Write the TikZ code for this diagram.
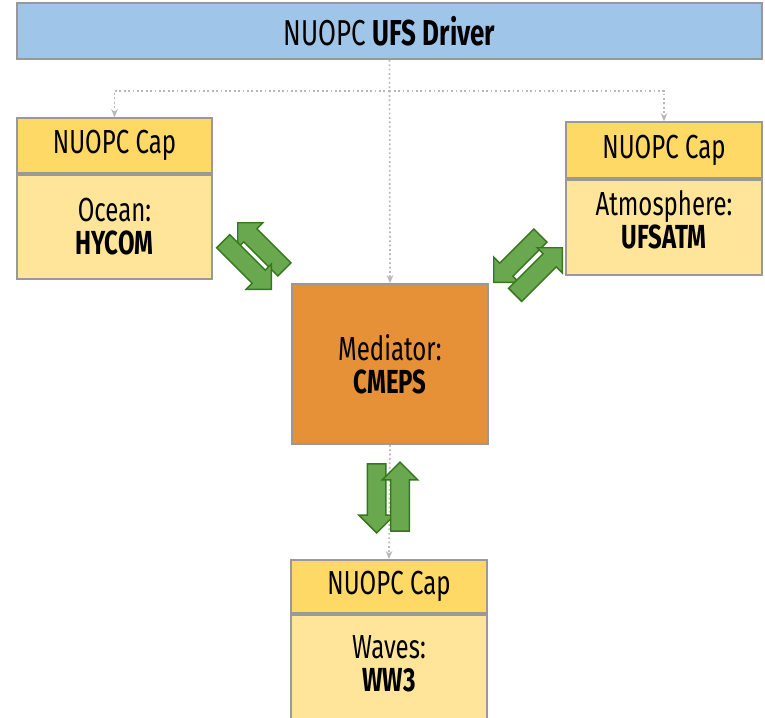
\documentclass[tikz,border=0pt]{standalone}
\usepackage{fontspec}
\setmainfont{Fira Sans}[FakeStretch=0.72]
\usetikzlibrary{positioning,calc,shapes.arrows,arrows.meta}

\definecolor{driverblue}{HTML}{9FC5E8}
\definecolor{capdark}{HTML}{FFD966}
\definecolor{caplight}{HTML}{FFE599}
\definecolor{medorange}{HTML}{E69138}
\definecolor{boxgray}{HTML}{999999}
\definecolor{dotgray}{HTML}{B7B7B7}
\definecolor{arrowfill}{HTML}{6AA84F}
\definecolor{arrowline}{HTML}{38761D}

\begin{document}
\begin{tikzpicture}[x=0.75pt,y=-0.75pt,
    box/.style={draw=boxgray,line width=1.3pt,inner sep=0pt,align=center,
        font=\fontsize{25}{25}\selectfont},
    capbox/.style={box,fill=capdark,minimum width=146.5pt},
    bodybox/.style={box,fill=caplight,minimum width=146.5pt},
    link/.style={dotgray,dotted,line width=1.3pt,-{Stealth[length=6pt,width=5pt]}},
    flow/.style={single arrow,draw=arrowline,fill=arrowfill,line width=1.1pt,
        inner xsep=0pt,inner ysep=6.4pt,single arrow head extend=6.4pt,anchor=tip}]
    \useasboundingbox (0,0) rectangle (765,718);

    \node[box,fill=driverblue,minimum width=559pt,minimum height=42pt,font=\fontsize{27}{27}\selectfont] (driver) at (389.5,31) {NUOPC \textbf{UFS Driver}};

    \node[capbox,minimum height=41.25pt] (oceancap) at (114.5,145.5) {NUOPC Cap};
    \node[bodybox,minimum height=78pt,below=0pt of oceancap] (ocean) {Ocean:\\\textbf{HYCOM}};

    \node[capbox,minimum height=42pt] (atmcap) at (664,150) {NUOPC Cap};
    \node[bodybox,minimum height=71.25pt,text depth=12pt,below=0pt of atmcap] (atm) {Atmosphere:\\\textbf{UFSATM}};

    \node[box,fill=medorange,minimum width=147pt,minimum height=120pt] (med) at (390,364) {Mediator:\\\textbf{CMEPS}};

    \node[capbox,minimum height=40pt] (wavescap) at (389,586.5) {NUOPC Cap};
    \node[bodybox,minimum height=86pt,text depth=13pt,below=0pt of wavescap] (waves) {Waves:\\\textbf{WW3}};

    \coordinate (split) at ($(driver.south)+(0,31)$);
    \draw[link] (driver.south) -- (med.north);
    \draw[link] (split) -| (oceancap.north);
    \draw[link] (split) -| (atmcap.north);
    \draw[link] (med.south) -- (wavescap.north);

    \node[flow,minimum height=49.5pt,rotate=135] (toocean) at (237,222) {};
    \node[flow,minimum height=51pt,rotate=-45] (fromocean) at (272,290) {};
    \node[flow,minimum height=49.5pt,rotate=-135] (fromatm) at (493,283) {};
    \node[flow,minimum height=50pt,rotate=45] (toatm) at (563,247) {};
    \node[flow,minimum height=51.75pt,rotate=-90] (fromwaves) at (376.7,534) {};
    \node[flow,minimum height=51.75pt,rotate=90] (towaves) at (400,461) {};
\end{tikzpicture}
\end{document}
